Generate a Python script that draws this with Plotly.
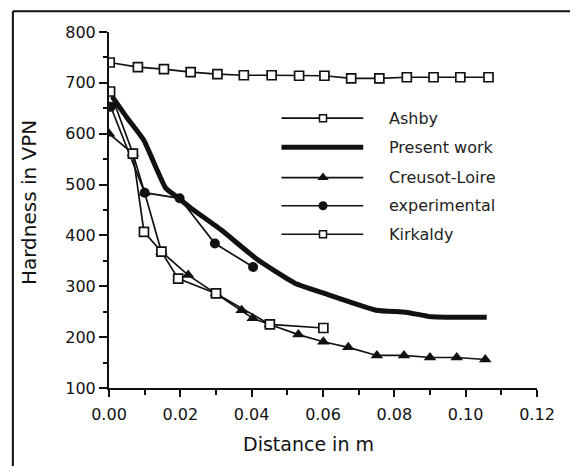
import plotly.graph_objects as go

# ---------------- data ----------------
ashby_x = [0.0002, 0.0081, 0.0154, 0.0229, 0.0304, 0.0378, 0.0456, 0.0533,
           0.0604, 0.0679, 0.0758, 0.0835, 0.0910, 0.0985, 0.1064]
ashby_y = [740, 731, 727, 721, 717, 715, 715, 714, 714, 709, 709, 711, 711, 711, 711]

present_x = [0.0009, 0.0050, 0.0097, 0.0159, 0.0190, 0.0231, 0.0314, 0.0417,
             0.0521, 0.0604, 0.0749, 0.0832, 0.0904, 0.1059]
present_y = [673, 632, 588, 493, 476, 453, 411, 352, 306, 286, 253, 249, 240, 239]

creusot_x = [0.0, 0.0067, 0.0100, 0.0147, 0.0222, 0.0300, 0.0372, 0.0403, 0.0451,
             0.0531, 0.0601, 0.0671, 0.0751, 0.0827, 0.0900, 0.0975, 0.1055]
creusot_y = [600, 561, 484, 368, 322, 286, 253, 237, 225, 205, 191, 180, 164, 164,
             160, 160, 156]

exper_x = [0.0005, 0.0100, 0.0198, 0.0297, 0.0404]
exper_y = [653, 484, 473, 384, 338]

kirk_x = [0.0003, 0.0067, 0.0098, 0.0147, 0.0194, 0.0300, 0.0451, 0.0601]
kirk_y = [683, 561, 407, 368, 315, 286, 225, 218]

legend_names = ["Ashby", "Present work", "Creusot-Loire", "experimental", "Kirkaldy"]
x_ticks = [0.00, 0.02, 0.04, 0.06, 0.08, 0.10, 0.12]
y_ticks = [100, 200, 300, 400, 500, 600, 700, 800]

# ---------------- figure ----------------
INK = "#111111"
FONT = "DejaVu Sans"
fig = go.Figure()

thin = dict(color=INK, width=1.7)
sq = dict(symbol="square", size=9, color="white", line=dict(color=INK, width=1.7))
tri = dict(symbol="triangle-up", size=11, color=INK, line=dict(color=INK, width=0))
dot = dict(symbol="circle", size=10, color=INK, line=dict(color=INK, width=0))

fig.add_trace(go.Scatter(x=exper_x, y=exper_y, mode="lines+markers", line=thin,
                         marker=dot, name=legend_names[3], showlegend=False))
fig.add_trace(go.Scatter(x=creusot_x, y=creusot_y, mode="lines+markers", line=thin,
                         marker=tri, name=legend_names[2], showlegend=False))
fig.add_trace(go.Scatter(x=kirk_x, y=kirk_y, mode="lines+markers", line=thin,
                         marker=sq, name=legend_names[4], showlegend=False))
fig.add_trace(go.Scatter(x=ashby_x, y=ashby_y, mode="lines+markers", line=thin,
                         marker=sq, name=legend_names[0], showlegend=False))
fig.add_trace(go.Scatter(x=present_x, y=present_y, mode="lines",
                         line=dict(color=INK, width=5, shape="spline", smoothing=0.4),
                         name=legend_names[1], showlegend=False))

# ---------------- hand-drawn legend (long sample lines as in the original) ----------------
leg_rows = [0.758, 0.676, 0.591, 0.512, 0.432]
leg_x0, leg_x1, leg_xm, leg_tx = 0.403, 0.594, 0.500, 0.650
leg_markers = [dict(symbol="square", size=7, color="white", line=dict(color=INK, width=1.5)),
               None,
               dict(symbol="triangle-up", size=10, color=INK),
               dict(symbol="circle", size=9, color=INK),
               dict(symbol="square", size=7, color="white", line=dict(color=INK, width=1.5))]
for i, (name, yy, mk) in enumerate(zip(legend_names, leg_rows, leg_markers)):
    lw = 5 if mk is None else 1.6
    fig.add_trace(go.Scatter(x=[leg_x0, leg_x1], y=[yy, yy], mode="lines",
                             line=dict(color=INK, width=lw), xaxis="x2", yaxis="y2",
                             showlegend=False, hoverinfo="skip"))
    if mk is not None:
        fig.add_trace(go.Scatter(x=[leg_xm], y=[yy], mode="markers", marker=mk,
                                 xaxis="x2", yaxis="y2", showlegend=False, hoverinfo="skip"))
    fig.add_annotation(x=leg_tx, y=yy, xref="x2", yref="y2", text=name, showarrow=False,
                       xanchor="left", yanchor="middle",
                       font=dict(family=FONT, size=16, color="#222222"))

axis_common = dict(showgrid=False, zeroline=False, showline=True, linecolor=INK,
                   linewidth=2, ticks="outside", tickcolor=INK, tickwidth=1.5,
                   tickfont=dict(family=FONT, size=16, color=INK), mirror=False)

# the page body has an 8px margin, so the figure is sized to fit the window from (8,8)
fig.update_layout(
    width=570, height=458,
    margin=dict(l=101.3, r=41.3, t=24.3, b=78.3),
    paper_bgcolor="white", plot_bgcolor="white",
    showlegend=False,
    xaxis=dict(range=[0, 0.12], tickvals=x_ticks, tickformat=".2f", ticklen=7,
               ticklabelstandoff=4,
               minor=dict(dtick=0.01, ticks="outside", ticklen=5, tickcolor=INK, tickwidth=1.5),
               **axis_common),
    yaxis=dict(range=[100, 800], tickvals=y_ticks, ticklen=8, ticklabelstandoff=0,
               minor=dict(dtick=50, ticks="outside", ticklen=4, tickcolor=INK, tickwidth=1.5),
               **axis_common),
    xaxis2=dict(range=[0, 1], domain=[0, 1], overlaying="x", visible=False, fixedrange=True),
    yaxis2=dict(range=[0, 1], domain=[0, 1], overlaying="y", visible=False, fixedrange=True),
)

# axis titles
fig.add_annotation(x=0.465, y=-0.158, xref="paper", yref="paper", text="Distance in m",
                   showarrow=False, xanchor="center", yanchor="middle",
                   font=dict(family=FONT, size=19, color=INK))
fig.add_annotation(x=-0.188, y=0.521, xref="paper", yref="paper", text="Hardness in VPN",
                   showarrow=False, xanchor="center", yanchor="middle", textangle=-90,
                   font=dict(family=FONT, size=20, color=INK))

# outer frame of the scanned figure (bottom edge falls outside the picture)
frame = dict(color=INK, width=2)
for x0, y0, x1, y1 in [(-0.2246, -0.25, -0.2246, 1.0585),
                       (-0.2246, 1.0585, 1.0814, 1.0585),
                       (1.0814, 1.0585, 1.0814, -0.25)]:
    fig.add_shape(type="line", xref="paper", yref="paper", x0=x0, y0=y0, x1=x1, y1=y1,
                  line=frame)

fig.write_html("out.html")
